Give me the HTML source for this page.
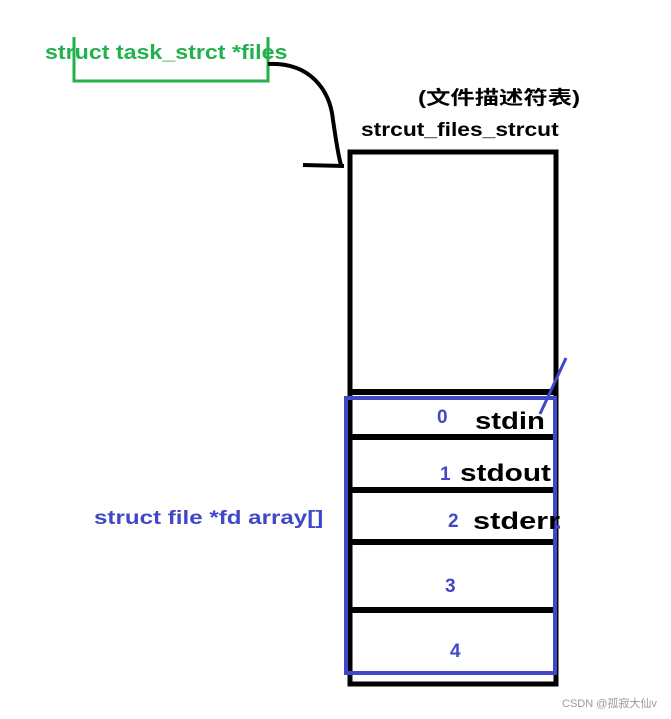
<!DOCTYPE html>
<html><head><meta charset="utf-8"><style>
body{margin:0;width:671px;height:719px;background:#fff;overflow:hidden;position:relative;font-family:"Liberation Sans","Noto Sans CJK SC",sans-serif}
.t{position:absolute;font-weight:bold;white-space:nowrap;line-height:1;transform-origin:0 50%}
</style></head><body>
<svg width="671" height="719" style="position:absolute;left:0;top:0">
<rect x="350" y="152" width="206" height="532" fill="none" stroke="#000" stroke-width="5"/>
<g stroke="#000" stroke-width="6">
<line x1="348" y1="392" x2="557" y2="392"/>
<line x1="348" y1="437" x2="553" y2="437"/>
<line x1="348" y1="490" x2="553" y2="490"/>
<line x1="348" y1="542" x2="553" y2="542"/>
<line x1="348" y1="610" x2="553" y2="610"/>
</g>
<rect x="346" y="398" width="209" height="275" fill="none" stroke="#4048c8" stroke-width="4"/>
<line x1="566" y1="358" x2="540" y2="414" stroke="#4048c8" stroke-width="3"/>
<line x1="555" y1="527" x2="560" y2="527" stroke="#4048c8" stroke-width="3"/>
<polyline points="74,37 74,81 268,81 268,37" fill="none" stroke="#22b14c" stroke-width="3"/>
<path d="M268,64 C310,62 330,90 333,120 C336,140 338,155 341,165" fill="none" stroke="#000" stroke-width="4"/>
<line x1="303" y1="165" x2="344" y2="166" stroke="#000" stroke-width="4"/>
</svg>
<div class="t" style="left:45px;top:43px;font-size:20px;color:#22b14c;transform:scaleX(1.16)">struct task_strct *files</div>
<div class="t" style="left:418px;top:89px;font-size:19px;transform:scaleX(1.28)">(文件描述符表)</div>
<div class="t" style="left:361px;top:121px;font-size:19px;transform:scaleX(1.2)">strcut_files_strcut</div>
<div class="t" style="left:94px;top:509px;font-size:19px;color:#4048c8;transform:scaleX(1.27)">struct file *fd array[]</div>
<div class="t" style="left:437px;top:408px;font-size:19px;color:#4048c8">0</div>
<div class="t" style="left:440px;top:465px;font-size:19px;color:#4048c8">1</div>
<div class="t" style="left:448px;top:512px;font-size:19px;color:#4048c8">2</div>
<div class="t" style="left:445px;top:577px;font-size:19px;color:#4048c8">3</div>
<div class="t" style="left:450px;top:642px;font-size:19px;color:#4048c8">4</div>
<div class="t" style="left:475px;top:410px;font-size:24px;transform:scaleX(1.22)">stdin</div>
<div class="t" style="left:460px;top:462px;font-size:24px;transform:scaleX(1.24)">stdout</div>
<div class="t" style="left:473px;top:510px;font-size:24px;transform:scaleX(1.28)">stderr</div>
<div class="t" style="left:562px;top:699px;font-size:11px;font-weight:normal;color:#999">CSDN @孤寂大仙v</div>
</body></html>
